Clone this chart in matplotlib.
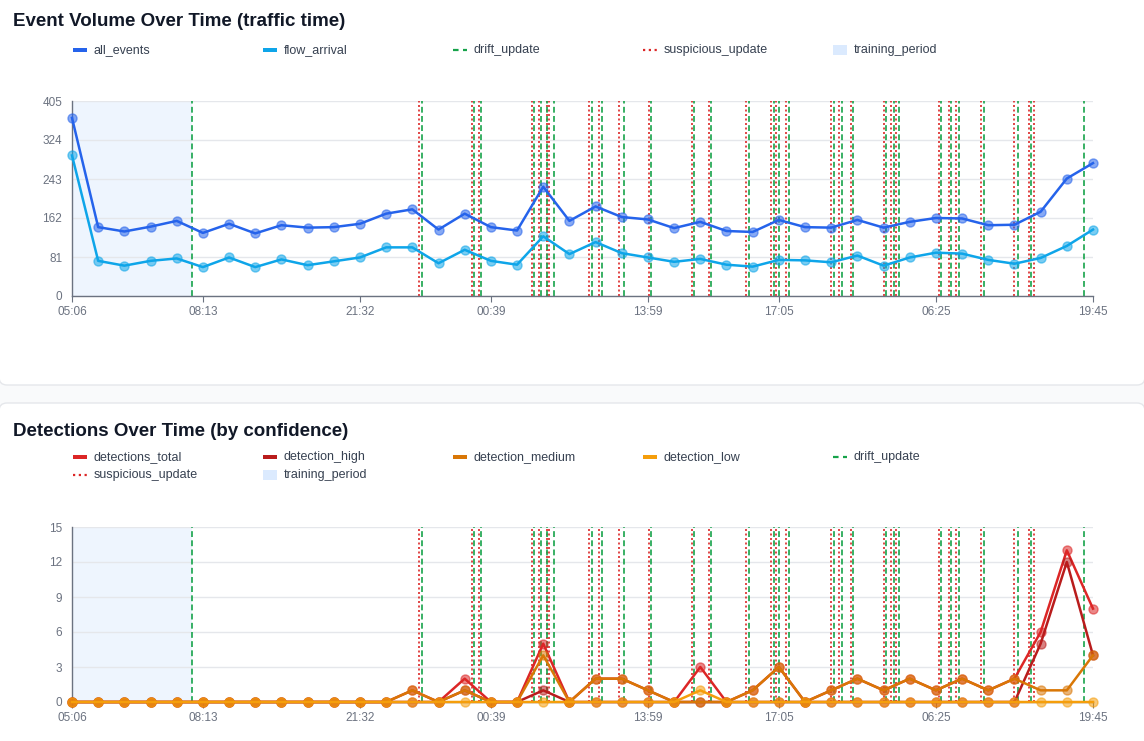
import numpy as np
import matplotlib
matplotlib.use("Agg")
import matplotlib.pyplot as plt
from matplotlib.patches import FancyBboxPatch, Rectangle
from matplotlib.lines import Line2D
import matplotlib.transforms as mtransforms

# ---------------- data ----------------
tick_pos = [0, 5, 11, 16, 22, 27, 33, 39]
tick_labels = ["05:06", "08:13", "21:32", "00:39", "13:59", "17:05", "06:25", "19:45"]

all_events = [370, 143, 134, 144, 156, 131, 150, 130, 147, 142, 143, 150, 171, 180, 138, 171, 143, 136, 227, 156,
              186, 164, 159, 141, 154, 135, 133, 158, 143, 142, 158, 142, 154, 162, 161, 147, 148, 175, 244, 276]
flow_arrival = [292, 73, 63, 73, 78, 60, 80, 60, 76, 64, 72, 80, 101, 101, 68, 96, 73, 65, 124, 87,
                112, 89, 80, 71, 77, 65, 61, 75, 74, 70, 84, 63, 80, 90, 88, 75, 67, 79, 104, 138]

detections_total = [0] * 13 + [1, 0, 2, 0, 0, 5, 0, 2, 2, 1, 0, 3, 0, 1, 3, 0, 1, 2, 1, 2, 1, 2, 1, 2, 6, 13, 8]
detection_high = [0] * 15 + [1, 0, 0, 1] + [0] * 18 + [5, 12, 4]
detection_medium = [0] * 13 + [1, 0, 1, 0, 0, 4, 0, 2, 2, 1, 0, 0, 0, 1, 3, 0, 1, 2, 1, 2, 1, 2, 1, 2, 1, 1, 4]
detection_low = [0] * 24 + [1] + [0] * 15

training_period = (0, 4.57)
drift_updates = [4.57, 13.36, 15.37, 15.64, 17.65, 17.93, 18.16, 18.42, 19.85, 20.23, 21.07, 22.13, 23.75,
                 24.42, 25.85, 26.81, 27.00, 27.38, 29.10, 29.40, 29.85, 31.10, 31.39, 31.58, 33.21, 33.58,
                 33.89, 34.84, 36.15, 36.64, 38.64]
suspicious_updates = [13.27, 15.27, 15.54, 17.56, 17.84, 18.13, 18.23, 19.74, 20.13, 20.89, 22.03, 23.67,
                      24.32, 25.76, 26.71, 26.91, 27.28, 29.00, 29.30, 29.77, 31.02, 31.30, 31.48, 33.12,
                      33.49, 33.78, 34.74, 35.98, 36.55, 36.74]

# ---------------- style ----------------
W, H = 1144, 741
C_ALL = "#2563eb"
C_FLOW = "#0ea5e9"
C_DRIFT = "#16a34a"
C_SUSP = "#dc2626"
C_TRAIN = "#eef5fe"
C_TRAIN_LEG = "#dbeafe"
C_TOTAL = "#dc2626"
C_HIGH = "#b91c1c"
C_MED = "#d97706"
C_LOW = "#f59e0b"
C_TEXT = "#111827"
C_AXIS = "#6b7280"
C_GRID = "#e5e7eb"

plt.rcParams['font.family'] = ['Liberation Sans', 'DejaVu Sans']

fig = plt.figure(figsize=(W / 100, H / 100), dpi=100, facecolor="#f9fafb")
px = mtransforms.Affine2D().scale(1 / 100) + fig.dpi_scale_trans  # pixel units, origin bottom-left


def fy(y):
    return H - y


# cards
for (y0, y1) in [(-20, 385), (403, 770)]:
    card = FancyBboxPatch((-1, fy(y1)), W + 2, y1 - y0, boxstyle="round,pad=0,rounding_size=8",
                          transform=px, facecolor="white", edgecolor="#e5e7eb", linewidth=1.0, zorder=-5)
    fig.patches.append(card)


def make_ax(ytop, ybot):
    ax = fig.add_axes([72 / W, fy(ybot) / H, (1093 - 72) / W, (ybot - ytop) / H])
    ax.set_zorder(2)
    ax.set_facecolor("none")
    for s in ["top", "right"]:
        ax.spines[s].set_visible(False)
    for s in ["left", "bottom"]:
        ax.spines[s].set_color(C_AXIS)
        ax.spines[s].set_linewidth(1.0)
    ax.set_xlim(0, 39)
    ax.set_xticks(tick_pos)
    ax.set_xticklabels(tick_labels)
    ax.tick_params(axis="x", length=4, color=C_AXIS, labelcolor=C_AXIS, labelsize=8.5, pad=3)
    ax.tick_params(axis="y", length=0, labelcolor=C_AXIS, labelsize=8.5, pad=7)
    ax.yaxis.grid(True, color=C_GRID, linewidth=1.0)
    ax.set_axisbelow(True)
    ax.axvspan(training_period[0], training_period[1], color=C_TRAIN, zorder=0.5, lw=0)
    for x in suspicious_updates:
        ax.axvline(x, color=C_SUSP, linestyle=(0, (1.2, 1.5)), linewidth=1.2, zorder=2)
    for x in drift_updates:
        ax.axvline(x, color=C_DRIFT, linestyle=(0, (3.5, 2)), linewidth=1.2, zorder=2)
    return ax


def series(ax, y, color, z):
    x = np.arange(len(y))
    ax.plot(x, y, color=color, linewidth=1.8, zorder=z, clip_on=False)
    ax.plot(x, y, linestyle="none", marker="o", markersize=6.5, markerfacecolor=color, alpha=0.55,
            markeredgecolor=color, markeredgewidth=1.0, zorder=z + 0.1, clip_on=False)


# ---------------- top chart ----------------
ax1 = make_ax(101, 296)
ax1.set_ylim(0, 405)
ax1.set_yticks([0, 81, 162, 243, 324, 405])
series(ax1, all_events, C_ALL, 3)
series(ax1, flow_arrival, C_FLOW, 4)

# ---------------- bottom chart ----------------
ax2 = make_ax(527, 702)
ax2.set_ylim(0, 15)
ax2.set_yticks([0, 3, 6, 9, 12, 15])
series(ax2, detections_total, C_TOTAL, 3)
series(ax2, detection_high, C_HIGH, 4)
series(ax2, detection_medium, C_MED, 5)
series(ax2, detection_low, C_LOW, 6)

# ---------------- titles ----------------
fig.text(13 / W, fy(22) / H, "Event Volume Over Time (traffic time)", fontsize=13.5, fontweight="bold",
         color=C_TEXT, va="center", ha="left")
fig.text(13 / W, fy(432) / H, "Detections Over Time (by confidence)", fontsize=13.5, fontweight="bold",
         color=C_TEXT, va="center", ha="left")


# ---------------- legends ----------------
def legend_item(x, y, label, kind, color):
    yy = fy(y)
    if kind == "line":
        fig.patches.append(Rectangle((x, yy - 2), 14, 4, transform=px, facecolor=color, edgecolor="none"))
    elif kind == "dash":
        fig.lines.append(Line2D([x, x + 14], [yy, yy], transform=px, color=color, linewidth=1.6,
                                linestyle=(0, (2.5, 2))))
    elif kind == "dot":
        fig.lines.append(Line2D([x, x + 14], [yy, yy], transform=px, color=color, linewidth=1.6,
                                linestyle=(0, (1, 1.6))))
    elif kind == "box":
        fig.patches.append(Rectangle((x, yy - 5), 14, 10, transform=px, facecolor=color, edgecolor="none"))
    fig.text((x + 21) / W, yy / H, label, fontsize=9, color="#374151", va="center", ha="left")


top_items = [("all_events", "line", C_ALL), ("flow_arrival", "line", C_FLOW),
             ("drift_update", "dash", C_DRIFT), ("suspicious_update", "dot", C_SUSP),
             ("training_period", "box", C_TRAIN_LEG)]
for i, (lab, kind, col) in enumerate(top_items):
    legend_item(73 + 190 * i, 50, lab, kind, col)

bot_items = [("detections_total", "line", C_TOTAL), ("detection_high", "line", C_HIGH),
             ("detection_medium", "line", C_MED), ("detection_low", "line", C_LOW),
             ("drift_update", "dash", C_DRIFT), ("suspicious_update", "dot", C_SUSP),
             ("training_period", "box", C_TRAIN_LEG)]
for i, (lab, kind, col) in enumerate(bot_items):
    legend_item(73 + 190 * (i % 5), 457 + 18 * (i // 5), lab, kind, col)

fig.savefig("out.png", dpi=100, facecolor=fig.get_facecolor())
